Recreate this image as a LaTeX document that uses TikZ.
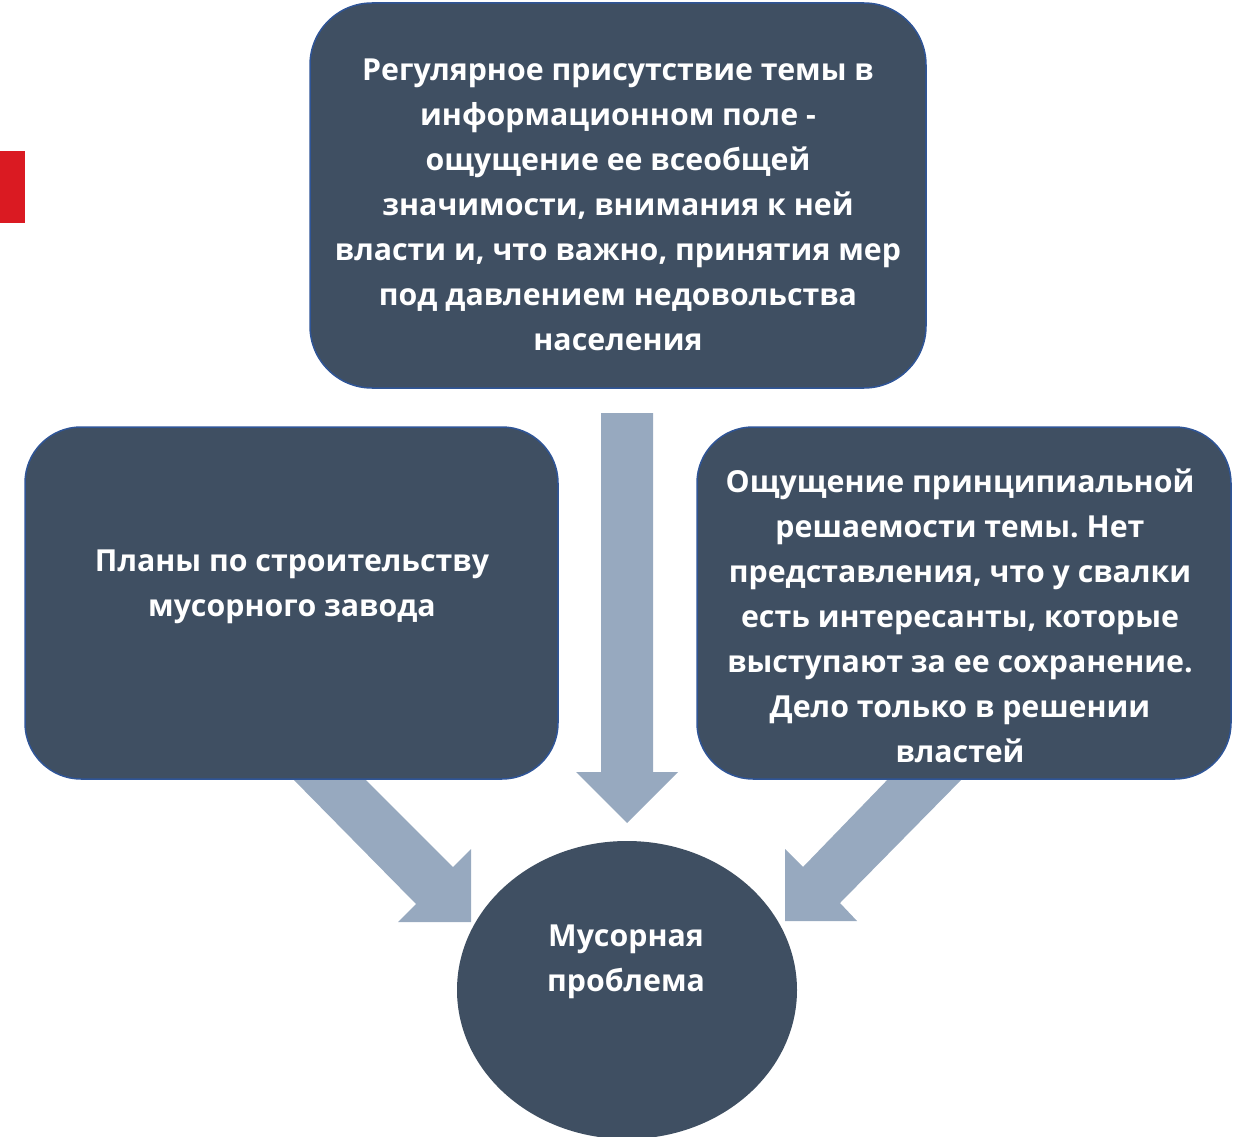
\documentclass[tikz,border=0pt]{standalone}
\usepackage{fontspec}
\setmainfont{Open Sans}
\usetikzlibrary{shapes.geometric}
\definecolor{boxfill}{HTML}{3F4F62}
\definecolor{boxline}{HTML}{2F5597}
\definecolor{arrowfill}{HTML}{97A9BF}
\definecolor{redbar}{HTML}{DA1A22}
\frenchspacing
\begin{document}
\begin{tikzpicture}[x=1pt,y=-1pt,
  box/.style={draw=boxline, line width=1.5pt, fill=boxfill, rounded corners=62pt, inner sep=0pt},
  txt/.style={text=white, font=\bfseries\fontsize{30.3}{45}\selectfont, align=center, inner sep=0pt},
  blockarrow/.style={fill=arrowfill, draw=none}]
\useasboundingbox (0,0) rectangle (1243,1137);
\fill[redbar] (0,151) rectangle (25,223);
% block arrows
\coordinate (d1) at (601,413);
\fill[blockarrow] (d1) -- (653,413) -- (653,772) -- (678,772) -- (627,823) -- (576,772) -- (601,772) -- cycle;
\fill[blockarrow] (289,775) -- (361,775) -- (453,867) -- (471,849) -- (471,922) -- (398,922) -- (416,904) -- cycle;
\fill[blockarrow] (966,775) -- (892,775) -- (803,867) -- (785,849) -- (785,921) -- (857,921) -- (840,903) -- cycle;
% boxes
\node[box, minimum width=616pt, minimum height=385pt] (top) at (618,195.5) {};
\node[box, rounded corners=56pt, minimum width=533pt, minimum height=352pt] (left) at (291.5,603) {};
\node[box, rounded corners=56pt, minimum width=534pt, minimum height=352pt] (right) at (964,603) {};
\node[ellipse, fill=boxfill, minimum width=340pt, minimum height=298pt, inner sep=0pt] (circ) at (627,990) {};
% texts
\node[txt] (toptxt) at (618,205) {Регулярное присутствие темы в\\информационном поле -\\ощущение ее всеобщей\\значимости, внимания к ней\\власти и, что важно, принятия мер\\под давлением недовольства\\населения};
\node[txt] (lefttxt) at (292,587) {Планы по строительству\\мусорного завода};
\node[txt] (righttxt) at (960,616) {Ощущение принципиальной\\решаемости темы. Нет\\представления, что у свалки\\есть интересанты, которые\\выступают за ее сохранение.\\Дело только в решении\\властей};
\node[txt] (circtxt) at (626,962) {Мусорная\\проблема};
\end{tikzpicture}
\end{document}
